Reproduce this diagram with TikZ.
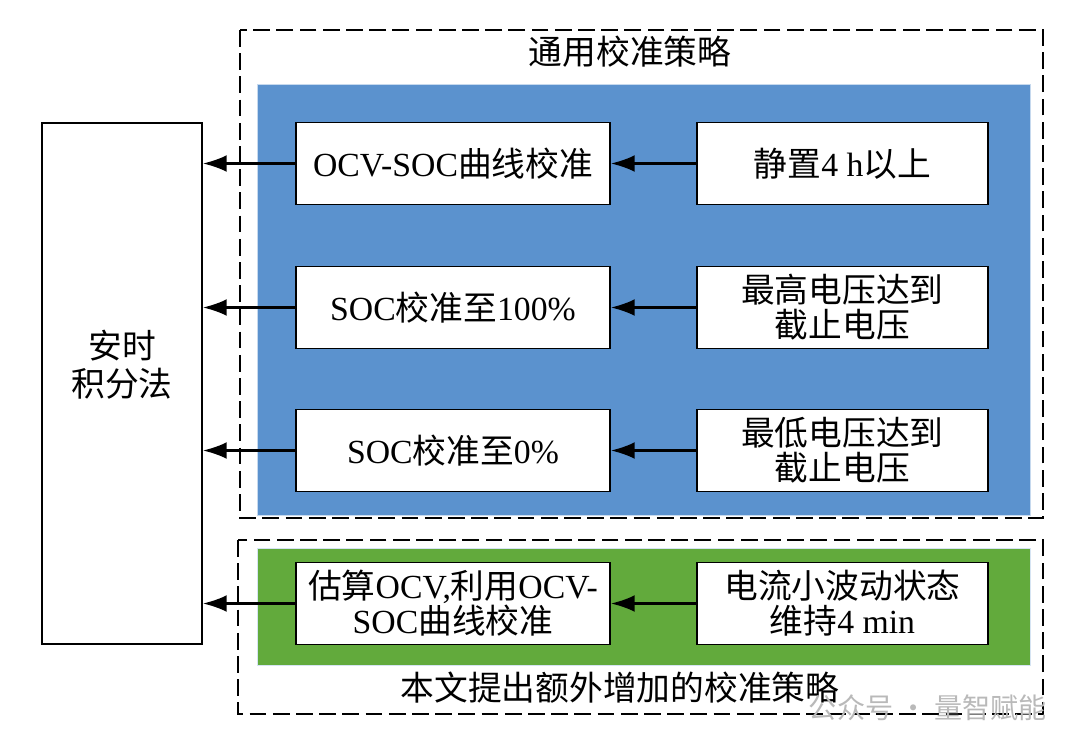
\documentclass[tikz,border=0pt]{standalone}
\usepackage{fontspec}
\setmainfont{Liberation Serif}
\newfontfamily\zhfont{Noto Sans CJK SC}
\newcommand{\zh}[1]{{\zhfont #1}}
\usetikzlibrary{arrows.meta}
\definecolor{commonblue}{RGB}{91,146,206}
\definecolor{extragreen}{RGB}{98,170,60}
\tikzset{
  stepbox/.style={draw, fill=white, line width=1pt, align=center, inner sep=2pt,
    font=\fontsize{24}{25}\selectfont},
  leftbox/.style={stepbox, minimum width=7.85cm, minimum height=2.05cm},
  rightbox/.style={stepbox, minimum width=7.275cm, minimum height=2.05cm},
  flow/.style={line width=1.9pt, -{Latex[length=0.6cm,width=0.42cm]}},
  groupframe/.style={line width=1.4pt, dash pattern=on 0.42cm off 0.16cm},
  caption/.style={font=\fontsize{24}{25}\selectfont\zhfont}
}

\begin{document}
\begin{tikzpicture}
\useasboundingbox (0,0) rectangle (27,-18.725);
% common strategies
\draw[groupframe] (6.0,-0.75) rectangle (26.075,-12.95);
\filldraw[draw=commonblue!35, fill=commonblue] (6.425,-2.1) rectangle (25.75,-12.875);
\node[caption] (common) at (15.75,-1.3) {通用校准策略};
% extra strategy
\draw[groupframe] (5.95,-13.5) rectangle (26.075,-17.85);
\filldraw[draw=commonblue!25, fill=extragreen] (6.425,-13.7) rectangle (25.75,-16.625);
\node[caption] (extra) at (15.5,-17.2) {本文提出额外增加的校准策略};

\node[stepbox, minimum width=4cm, minimum height=13.025cm] (ahint) at (3.05,-9.5875) {};
\node[font=\fontsize{24}{27}\selectfont\zhfont, align=center] (ahintlabel)
  at ([yshift=0.475cm]ahint.center) {安时\\积分法};

\node[leftbox] (ocvcal) at (11.325,-4.0875) {OCV-SOC\zh{曲线校准}};
\node[rightbox] (rest) at (21.06,-4.0875) {\zh{静置}4 h\zh{以上}};
\node[leftbox] (fullcal) at (11.325,-7.6875) {SOC\zh{校准至}100\%};
\node[rightbox] (maxv) at (21.06,-7.6875) {\zh{最高电压达到}\\\zh{截止电压}};
\node[leftbox] (emptycal) at (11.325,-11.2625) {SOC\zh{校准至}0\%};
\node[rightbox] (minv) at (21.06,-11.2625) {\zh{最低电压达到}\\\zh{截止电压}};
\node[leftbox] (estcal) at (11.325,-15.0875) {\zh{估算}OCV,\zh{利用}OCV-\\SOC\zh{曲线校准}};
\node[rightbox] (smallcur) at (21.06,-15.0875) {\zh{电流小波动状态}\\\zh{维持}4 min};

\foreach \src/\dst in {rest/ocvcal, maxv/fullcal, minv/emptycal, smallcur/estcal}{
  \draw[flow] (\src.west) -- (\dst.east);
  \draw[flow] (\dst.west) -- (\dst.west -| ahint.east);
}

% watermark
\node[anchor=west, text=gray!55, font=\fontsize{20}{22}\selectfont\zhfont] (mark) at (20.1,-17.7) {公众号 · 量智赋能};
\end{tikzpicture}
\end{document}
